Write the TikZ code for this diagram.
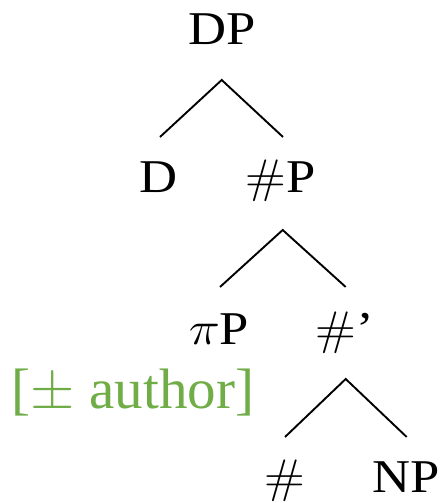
\RequirePackage{fix-cm}
\documentclass[tikz,border=0pt]{standalone}
\usepackage{fontspec}
\setmainfont{Liberation Serif}
\newfontfamily\lmr{Latin Modern Roman}
\definecolor{featgreen}{HTML}{70AD47}
\newcommand{\blk}[1]{\scalebox{1.12}[1]{#1}}
\newcommand{\hsh}{{\lmr\#}}
\begin{document}
\begin{tikzpicture}[x=1pt,y=1pt,
  lab/.style={anchor=base,inner sep=0pt,font=\fontsize{47}{52}\selectfont},
  feat/.style={anchor=base,inner sep=0pt,text=featgreen,font=\fontsize{57}{63}\selectfont},
  branch/.style={line width=1.9pt}]
\useasboundingbox (0,0) rectangle (441,503);
% nodes
\node[lab] (DP) at (222.5,458) {\blk{DP}};
\node[lab] (D) at (159,310) {\blk{D}};
\node[lab] (NumP) at (280.5,310) {\blk{\hsh P}};
\node[lab] (piP) at (219,158) {\blk{$\pi$P}};
\node[lab] (NumBar) at (345,158) {\blk{\hsh'}};
\node[feat] (auth) at (133,94) {[$\pm$ author]};
\node[lab] (Num) at (284.5,10) {\blk{\hsh}};
\node[lab] (NP) at (406,10) {\blk{NP}};
% branch points
\coordinate (DPa) at (221.7,423);
\coordinate (Dt) at (160,366);
\coordinate (NumPt) at (283,366);
\coordinate (NumPa) at (282.7,273);
\coordinate (piPt) at (220,216);
\coordinate (NumBart) at (345.7,216);
\coordinate (NumBara) at (345.7,124);
\coordinate (Numt) at (285,66);
\coordinate (NPt) at (406.7,66);
% connectors
\draw[branch] (Dt) -- (DPa) -- (NumPt);
\draw[branch] (piPt) -- (NumPa) -- (NumBart);
\draw[branch] (Numt) -- (NumBara) -- (NPt);
\end{tikzpicture}
\end{document}
